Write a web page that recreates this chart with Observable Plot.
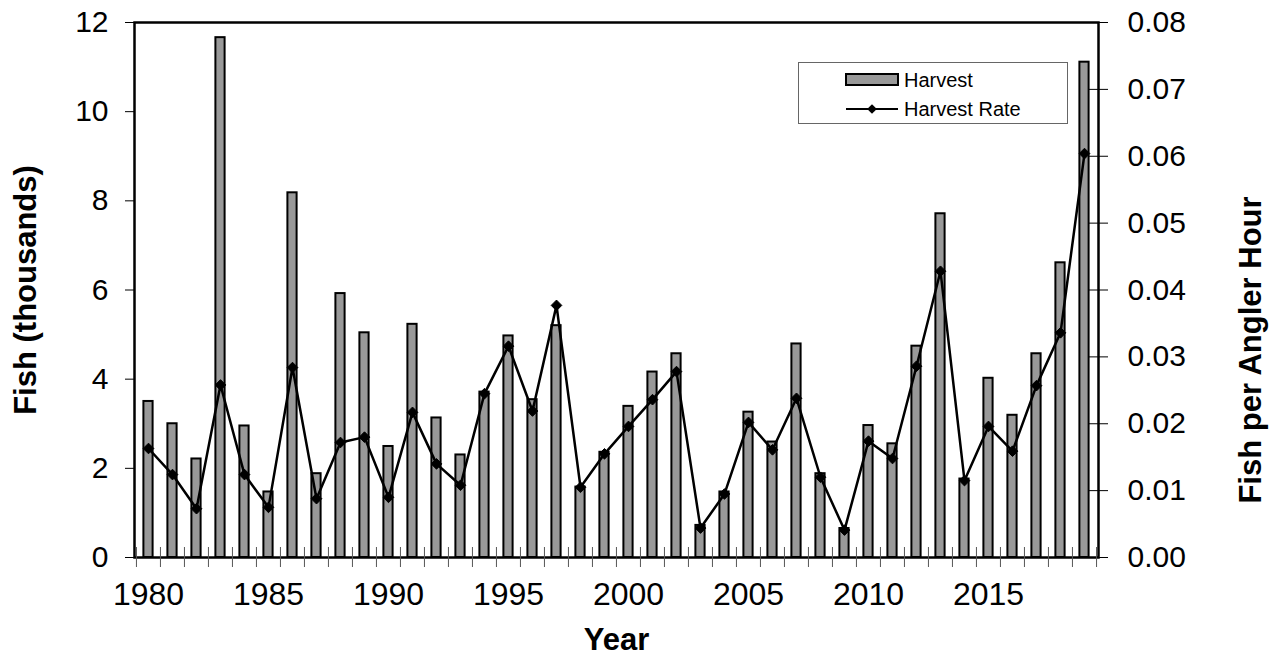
<!DOCTYPE html>
<html>
<head>
<meta charset="utf-8">
<script src="https://cdn.jsdelivr.net/npm/d3@7"></script>
<script src="https://cdn.jsdelivr.net/npm/@observablehq/plot@0.6"></script>
<style>
  body { margin: 0; background: #fff; }
  #wrap { position: relative; width: 1280px; height: 659px; font-family: "Liberation Sans", Arial, sans-serif; }
  #legend { position: absolute; left: 798px; top: 62px; width: 270px; height: 62px; box-sizing: border-box;
            border: 1.5px solid #666; background: #fff; }
  #legend svg { display: block; }
</style>
</head>
<body>
<div id="wrap">
  <div id="chart"></div>
  <div id="legend"></div>
</div>
<script>
// ---- data ----
const years = [1980,1981,1982,1983,1984,1985,1986,1987,1988,1989,
               1990,1991,1992,1993,1994,1995,1996,1997,1998,1999,
               2000,2001,2002,2003,2004,2005,2006,2007,2008,2009,
               2010,2011,2012,2013,2014,2015,2016,2017,2018,2019];
// Harvest, fish (thousands)
const harvest = [3.50,3.00,2.21,11.66,2.95,1.47,8.18,1.88,5.92,5.04,
                 2.49,5.23,3.13,2.30,3.71,4.97,3.54,5.20,1.58,2.36,
                 3.39,4.16,4.57,0.72,1.47,3.26,2.59,4.79,1.88,0.65,
                 2.96,2.55,4.74,7.71,1.76,4.02,3.19,4.57,6.61,11.11];
// Harvest rate, fish per angler hour
const harvestRate = [0.0163,0.0124,0.0073,0.0258,0.0124,0.0075,0.0284,0.0088,0.0172,0.0180,
                     0.0090,0.0217,0.0140,0.0108,0.0245,0.0316,0.0219,0.0377,0.0105,0.0155,
                     0.0196,0.0236,0.0278,0.0044,0.0095,0.0202,0.0161,0.0238,0.0120,0.0041,
                     0.0174,0.0148,0.0286,0.0428,0.0115,0.0196,0.0159,0.0257,0.0336,0.0604];
const leftTicks = [0,2,4,6,8,10,12];
const rightTicks = [0,0.01,0.02,0.03,0.04,0.05,0.06,0.07,0.08];
const xLabelYears = [1980,1985,1990,1995,2000,2005,2010,2015];
const seriesNames = ["Harvest","Harvest Rate"];
const axisTitles = {left: "Fish (thousands)", right: "Fish per Angler Hour", bottom: "Year"};

// ---- chart ----
const W = 1280, H = 659, mL = 134, mR = 182, mT = 22, mB = 102;
const bw = (W - mL - mR) / years.length;
const k = leftTicks[leftTicks.length - 1] / rightTicks[rightTicks.length - 1];
const table = years.map((year, i) => ({year, harvest: harvest[i], rate: harvestRate[i]}));
const font = "Liberation Sans, Arial, sans-serif";

const chart = Plot.plot({
  width: W, height: H,
  marginLeft: mL, marginRight: mR, marginTop: mT, marginBottom: mB,
  style: {fontFamily: font, background: "white", color: "black", overflow: "visible"},
  x: {type: "band", domain: years, padding: 0, label: null},
  y: {domain: [0, leftTicks[leftTicks.length - 1]], label: null},
  marks: [
    Plot.barY(table, {x: "year", y: "harvest", fill: "#999999", stroke: "black", strokeWidth: 2,
                      insetLeft: 7.4, insetRight: 7.4}),
    Plot.line(table, {x: "year", y: d => d.rate * k, stroke: "black", strokeWidth: 2.5}),
    Plot.dot(table, {x: "year", y: d => d.rate * k, symbol: "diamond2", r: 4.8, fill: "black", stroke: "black", strokeWidth: 1}),
    Plot.frame({stroke: "black", strokeWidth: 2.5}),
    // left axis
    Plot.axisY({anchor: "left", ticks: leftTicks, tickSize: 9, tickPadding: 17, fontSize: 30, label: null}),
    // right axis labels + ticks
    Plot.axisY({anchor: "right", ticks: rightTicks.map(v => v * k), tickFormat: d => (d / k).toFixed(2),
                tickSize: 0, tickPadding: 29, fontSize: 30, label: null}),
    Plot.axisY({anchor: "right", ticks: rightTicks.map(v => v * k), tickFormat: () => "",
                tickSize: 19, dx: -10, label: null}),
    // x axis labels
    Plot.axisX({ticks: xLabelYears, tickFormat: d => String(d), tickSize: 0, tickPadding: 25, fontSize: 32, label: null}),
    // x tick marks at category boundaries
    Plot.axisX({ticks: years, tickFormat: () => "", tickSize: 20, dy: -10, dx: -bw / 2, stroke: "#555", label: null}),
    Plot.axisX({ticks: [years[years.length - 1]], tickFormat: () => "", tickSize: 20, dy: -10, dx: bw / 2, stroke: "#555", label: null}),
    // axis titles
    Plot.text([axisTitles.left], {frameAnchor: "left", dx: -108, rotate: -90, textAnchor: "middle", lineAnchor: "middle",
                                  fontSize: 31, fontWeight: "bold", fill: "black"}),
    Plot.text([axisTitles.right], {frameAnchor: "right", dx: 153, dy: 60, rotate: -90, textAnchor: "middle", lineAnchor: "middle",
                                   fontSize: 31, fontWeight: "bold", fill: "black"}),
    Plot.text([axisTitles.bottom], {frameAnchor: "bottom", dy: 83, textAnchor: "middle", lineAnchor: "middle",
                                    fontSize: 31, fontWeight: "bold", fill: "black"})
  ]
});
document.getElementById("chart").appendChild(chart);

// ---- legend ----
const lg = d3.select("#legend").append("svg").attr("width", 267).attr("height", 59)
  .style("font-family", font);
lg.append("rect").attr("x", 47).attr("y", 11).attr("width", 52).attr("height", 11)
  .attr("fill", "#999999").attr("stroke", "black").attr("stroke-width", 2);
lg.append("text").attr("x", 105).attr("y", 17).attr("dominant-baseline", "central")
  .attr("font-size", 20).text(seriesNames[0]);
lg.append("line").attr("x1", 47).attr("x2", 99).attr("y1", 46).attr("y2", 46)
  .attr("stroke", "black").attr("stroke-width", 2);
lg.append("path").attr("d", d3.symbol(d3.symbolDiamond2, 60)()).attr("transform", "translate(73,46)")
  .attr("fill", "black");
lg.append("text").attr("x", 105).attr("y", 46).attr("dominant-baseline", "central")
  .attr("font-size", 20).text(seriesNames[1]);
</script>
</body>
</html>
